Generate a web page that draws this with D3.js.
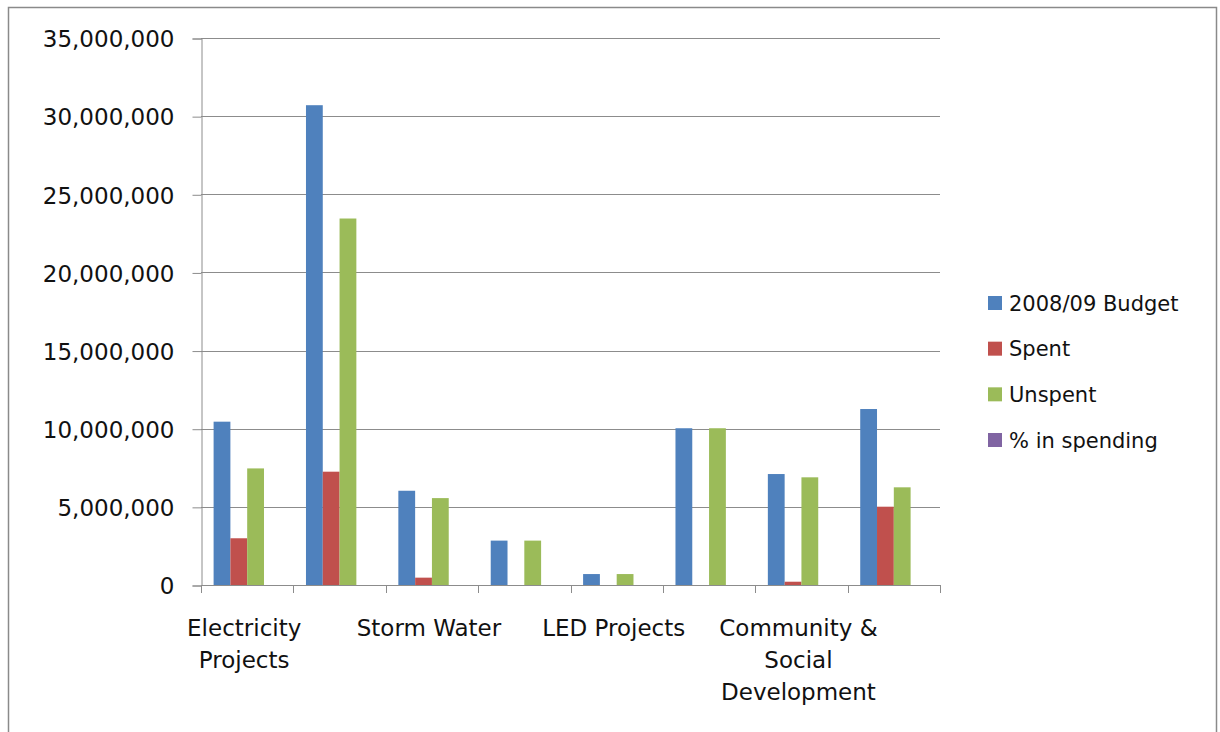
<!DOCTYPE html>
<html>
<head>
<meta charset="utf-8">
<script src="https://cdn.jsdelivr.net/npm/d3@7"></script>
<style>
  html, body { margin: 0; padding: 0; background: #fff; }
  svg { display: block; }
  text { font-family: "DejaVu Sans", sans-serif; fill: #111; }
</style>
</head>
<body>
<svg id="chart" width="1220" height="732"></svg>
<script>
// Category axis labels (Excel shows only every second one; the rest stay blank)
const categoryLabels = [
  ["Electricity", "Projects"],
  [],
  ["Storm Water"],
  [],
  ["LED Projects"],
  [],
  ["Community &", "Social", "Development"],
  []
];

const seriesNames = ["2008/09 Budget", "Spent", "Unspent", "% in spending"];
const seriesColors = ["#4F81BD", "#C0504D", "#9BBB59", "#8064A2"];

const budget   = [10450000, 30700000, 6030000, 2840000, 700000, 10030000, 7100000, 11260000];
const spent    = [2990000, 7250000, 470000, 0, 0, 0, 210000, 5010000];
const unspent  = [7460000, 23450000, 5560000, 2840000, 700000, 10030000, 6890000, 6250000];
const pctSpend = [28.6, 23.6, 7.8, 0, 0, 0, 3.0, 44.5];

const yTicks = [0, 5000000, 10000000, 15000000, 20000000, 25000000, 30000000, 35000000];

const series = [budget, spent, unspent, pctSpend];

const svg = d3.select("#chart");

// Outer chart frame
svg.append("rect")
  .attr("x", 8.5).attr("y", 7.5)
  .attr("width", 1208).attr("height", 760)
  .attr("fill", "none").attr("stroke", "#8a8a8a").attr("stroke-width", 1.5);

const plot = { left: 201, right: 940, top: 38, bottom: 585 };

const y = d3.scaleLinear().domain([0, 35000000]).range([plot.bottom, plot.top]);
const x0 = d3.scaleBand()
  .domain(d3.range(categoryLabels.length))
  .range([plot.left, plot.right])
  .padding(0);
// four bars plus a gap of 150% of one bar width
const barW = x0.bandwidth() / 5.5;
const x1 = d3.scaleBand()
  .domain(d3.range(seriesNames.length))
  .range([barW * 0.75, x0.bandwidth() - barW * 0.75])
  .padding(0);

// Horizontal gridlines
svg.append("g")
  .selectAll("line")
  .data(yTicks.filter(d => d > 0))
  .join("line")
  .attr("x1", plot.left).attr("x2", plot.right)
  .attr("y1", d => Math.round(y(d)) + 0.5).attr("y2", d => Math.round(y(d)) + 0.5)
  .attr("stroke", "#8c8c8c").attr("stroke-width", 1);

// Y axis
const yAxis = d3.axisLeft(y)
  .tickValues(yTicks)
  .tickSize(9)
  .tickPadding(18)
  .tickFormat(d3.format(","));
const gy = svg.append("g")
  .attr("transform", `translate(${plot.left + 0.5},0.5)`)
  .call(yAxis);
gy.select(".domain").attr("stroke", "#8c8c8c");
gy.selectAll(".tick line").attr("stroke", "#8c8c8c");
gy.selectAll(".tick text")
  .attr("font-family", "DejaVu Sans, sans-serif")
  .attr("font-size", 23)
  .attr("fill", "#111")
  .attr("dy", "0.36em");

// Bars
const groups = svg.append("g")
  .selectAll("g")
  .data(categoryLabels.map((c, i) => i))
  .join("g")
  .attr("transform", i => `translate(${x0(i)},0)`);

groups.selectAll("rect")
  .data(i => series.map((s, k) => ({ k, v: s[i] })))
  .join("rect")
  .attr("x", d => x1(d.k))
  .attr("width", x1.bandwidth())
  .attr("y", d => y(d.v))
  .attr("height", d => Math.max(0, y(0) - y(d.v)))
  .attr("fill", d => seriesColors[d.k]);

// X axis line and tick marks at category boundaries
svg.append("line")
  .attr("x1", plot.left).attr("x2", plot.right)
  .attr("y1", plot.bottom + 0.5).attr("y2", plot.bottom + 0.5)
  .attr("stroke", "#8c8c8c");
const boundaries = d3.range(categoryLabels.length + 1)
  .map(i => i < categoryLabels.length ? x0(i) : plot.right);
svg.append("g")
  .selectAll("line")
  .data(boundaries)
  .join("line")
  .attr("x1", d => Math.round(d) + 0.5).attr("x2", d => Math.round(d) + 0.5)
  .attr("y1", plot.bottom).attr("y2", plot.bottom + 8)
  .attr("stroke", "#8c8c8c");

// Category labels, centred a touch left of each band centre
const labelX = i => x0(i) + x0.bandwidth() / 2 - 3;
const labelG = svg.append("g")
  .selectAll("text")
  .data(categoryLabels.map((lines, i) => ({ lines, i })).filter(d => d.lines.length))
  .join("text")
  .attr("text-anchor", "middle")
  .attr("font-size", 23)
  .attr("x", d => labelX(d.i))
  .attr("y", 636);
labelG.selectAll("tspan")
  .data(d => d.lines.map(t => ({ t, cx: labelX(d.i) })))
  .join("tspan")
  .attr("x", d => d.cx)
  .attr("dy", (d, j) => j === 0 ? 0 : 32)
  .text(d => d.t);

// Legend
const legendY = d3.scalePoint().domain(d3.range(seriesNames.length)).range([303, 440]);
const legend = svg.append("g")
  .selectAll("g")
  .data(seriesNames.map((n, k) => ({ n, k })))
  .join("g")
  .attr("transform", d => `translate(988,${legendY(d.k)})`);
legend.append("rect")
  .attr("x", 0).attr("y", -7)
  .attr("width", 14).attr("height", 14)
  .attr("fill", d => seriesColors[d.k]);
legend.append("text")
  .attr("x", 21).attr("y", 0).attr("dy", "0.36em")
  .attr("font-size", 21)
  .text(d => d.n);
</script>
</body>
</html>
